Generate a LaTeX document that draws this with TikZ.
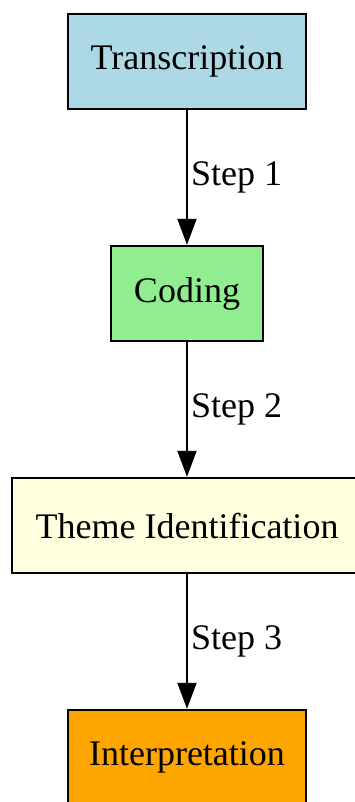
\documentclass[tikz,border=0pt]{standalone}
\usepackage{fontspec}
\setmainfont{Liberation Serif}
\usetikzlibrary{positioning}
\usetikzlibrary{arrows.meta}
\usetikzlibrary{graphs}
\definecolor{bLight}{HTML}{ADD8E6}
\definecolor{gLight}{HTML}{90EE90}
\definecolor{yLight}{HTML}{FFFFE0}
\definecolor{oDeep}{HTML}{FFA500}

\begin{document}
\begin{tikzpicture}[
    x=1pt, y=1pt,
    node distance=67.3pt,
    stage/.style = {draw, line width=1.2pt, minimum height=47.5pt, inner sep=0pt,
      font=\fontsize{18}{21}\selectfont},
    steplabel/.style = {anchor=west, inner sep=1.5pt, font=\fontsize{18}{21}\selectfont},
    ]

    % page frame (cuts off the right and bottom boxes a little)
    \useasboundingbox (0,0) rectangle (177,-401);

    \node[stage, fill=bLight, minimum width=119pt] (transcription) at (93.5,-30.75) {Transcription};
    \node[stage, fill=gLight, minimum width=76pt, below=of transcription] (coding) {Coding};
    \node[stage, fill=yLight, minimum width=175pt, below=of coding] (theme) {Theme Identification};
    \node[stage, fill=oDeep, minimum width=119pt, below=of theme] (interp) {Interpretation};

    \graph[edges={line width=1pt, -{Triangle[length=13pt, width=9.5pt]}}] {
      % stage -> stage
      (transcription) ->[edge node={node[steplabel] {Step 1}}] (coding),
      (coding) ->[edge node={node[steplabel] {Step 2}}] (theme),
      (theme) ->[edge node={node[steplabel] {Step 3}}] (interp),
    };

  \end{tikzpicture}
\end{document}
